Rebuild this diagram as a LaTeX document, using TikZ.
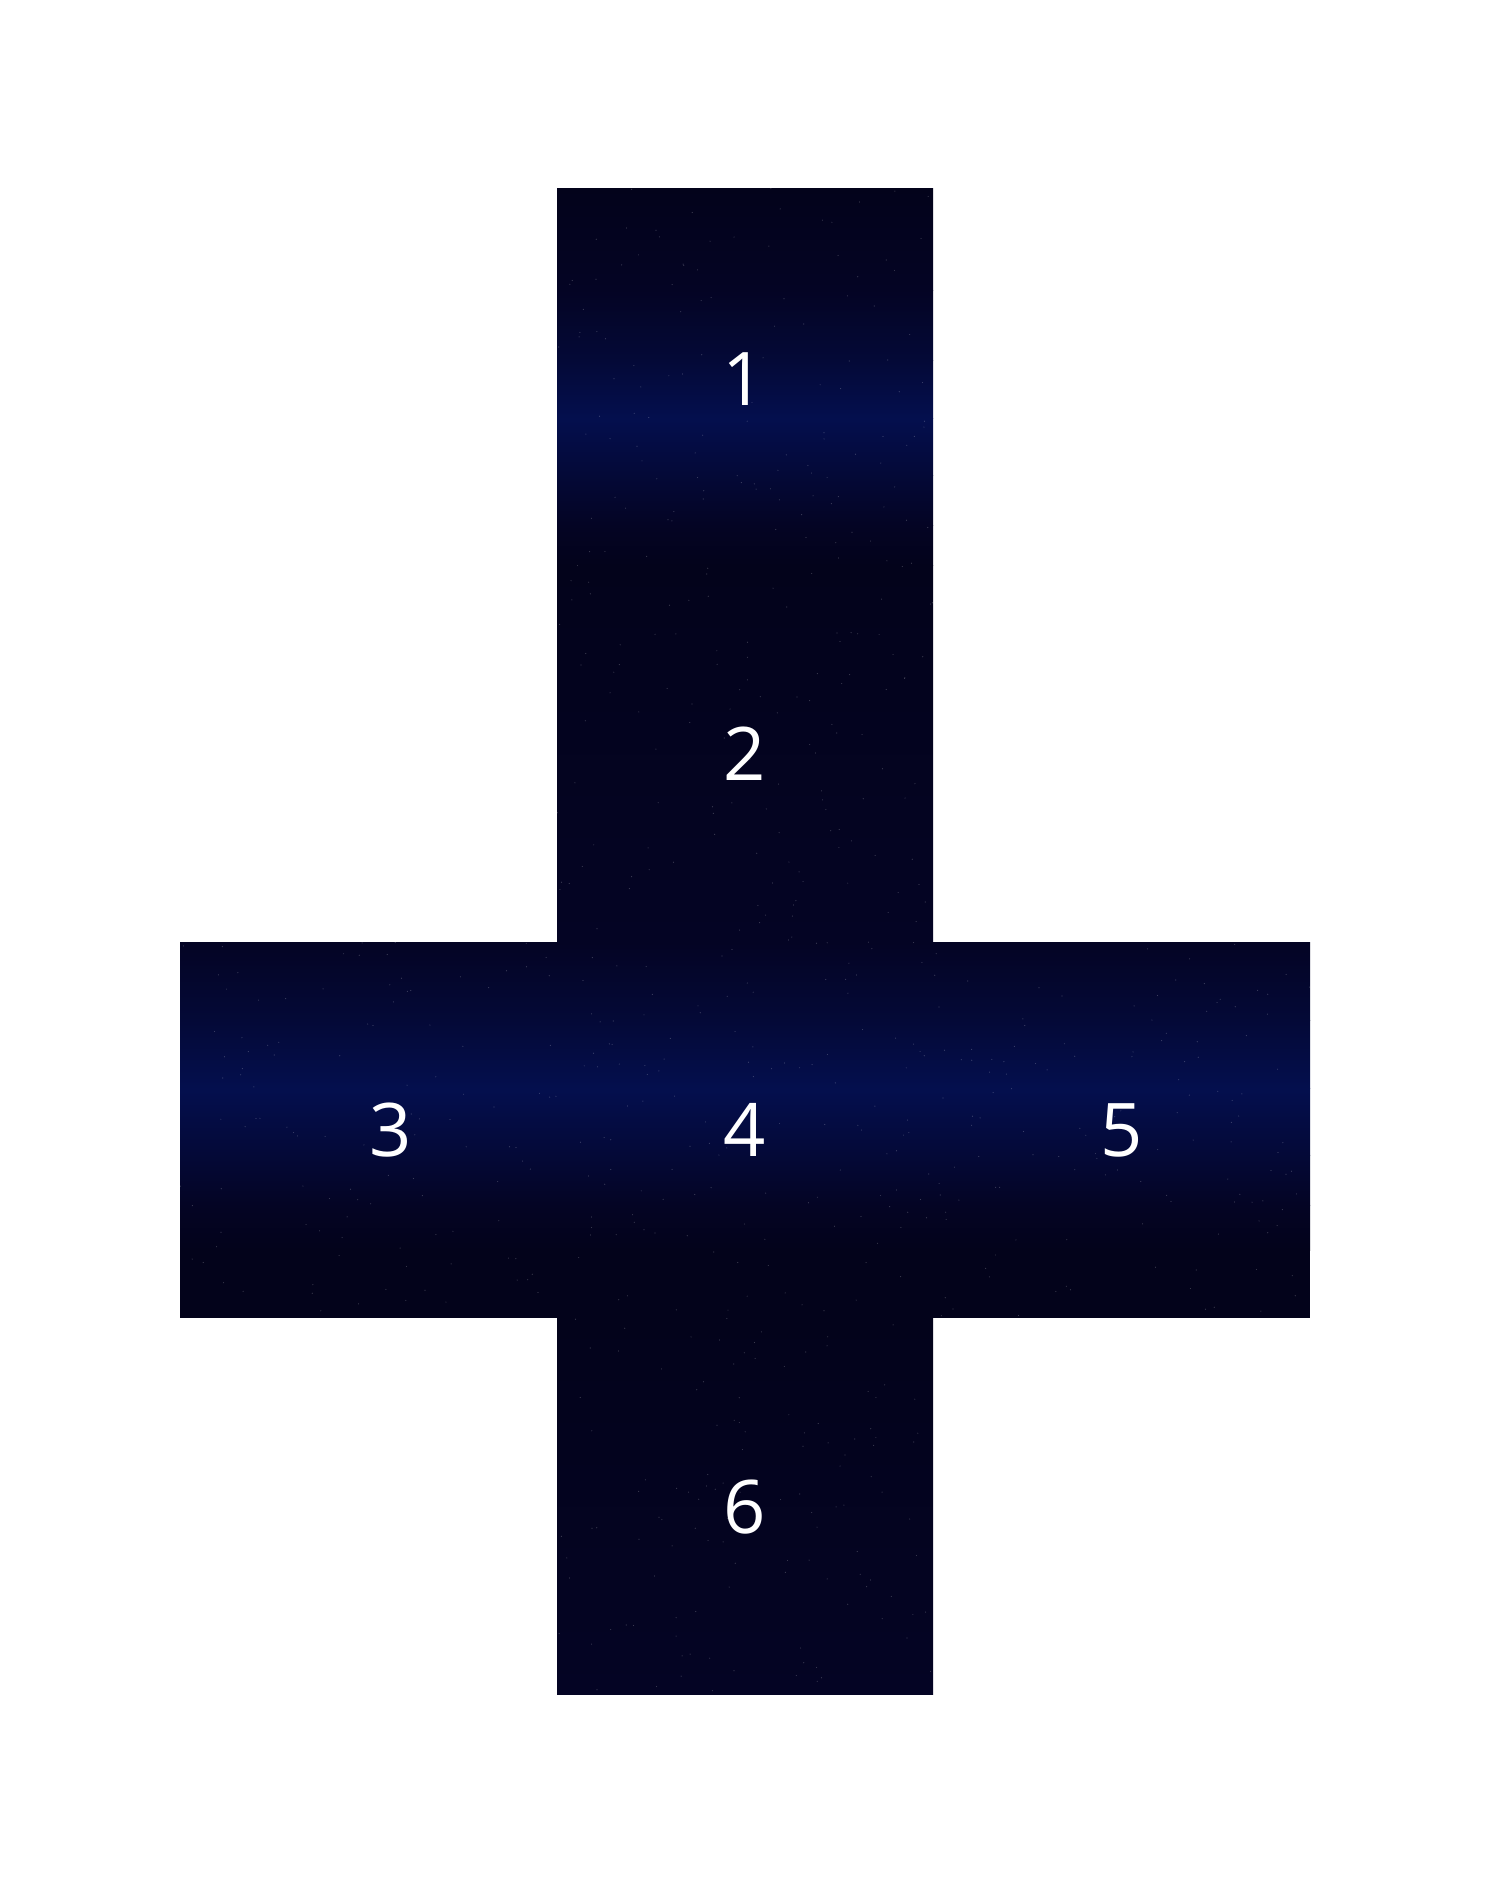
\documentclass[tikz,border=0pt]{standalone}
\usepackage{fontspec}
\newfontfamily\digitfont{Open Sans}
\begin{document}
\begin{tikzpicture}[x=1pt,y=-1pt,
  lbl/.style={text=white,font=\digitfont\fontsize{74}{80}\selectfont,inner sep=0pt},
  star/.style={white,opacity=0.22}]
\definecolor{dk}{RGB}{3,3,27}
\definecolor{dk2}{RGB}{4,4,36}
\definecolor{md}{RGB}{4,9,55}
\definecolor{bl}{RGB}{4,15,78}
\useasboundingbox[fill=white] (0,0) rectangle (1490,1882);
% square 1
\fill[top color=dk, bottom color=dk2] (557,188) rectangle (933,290.5);
\fill[top color=dk2, bottom color=md] (557,290) rectangle (933,360.5);
\fill[top color=md, bottom color=bl] (557,360) rectangle (933,418.5);
\fill[top color=bl, bottom color=md] (557,418) rectangle (933,475.5);
\fill[top color=md, bottom color=dk2] (557,475) rectangle (933,525.5);
\fill[top color=dk2, bottom color=dk] (557,525) rectangle (933,565.5);
% square 2
\fill[top color=dk, bottom color=dk2] (557,565) rectangle (933,942.5);
% row 3-4-5
\fill[top color=dk2, bottom color=md] (180,942) rectangle (1310,1020.5);
\fill[top color=md, bottom color=bl] (180,1020) rectangle (1310,1088.5);
\fill[top color=bl, bottom color=md] (180,1088) rectangle (1310,1155.5);
\fill[top color=md, bottom color=dk2] (180,1155) rectangle (1310,1205.5);
\fill[top color=dk2, bottom color=dk] (180,1205) rectangle (1310,1250.5);
\fill[dk] (180,1250) rectangle (1310,1318);
% square 6
\fill[top color=dk, bottom color=dk2] (557,1318) rectangle (933,1694);
% faint stars
\begin{scope}
\clip (557,188) -- (933,188) -- (933,942) -- (1310,942) -- (1310,1318) -- (933,1318)
  -- (933,1694) -- (557,1694) -- (557,1318) -- (180,1318) -- (180,942) -- (557,942) -- cycle;
\pgfmathsetseed{4217}
\foreach \i in {1,...,1400}{
  \pgfmathsetmacro\px{180+1131*rnd}
  \pgfmathsetmacro\py{188+1508*rnd}
  \fill[star] (\px,\py) circle (0.6);
}
\end{scope}
% labels
\node[lbl] (n1) at (744,379) {1};
\node[lbl] (n2) at (745,754) {2};
\node[lbl] (n3) at (391,1130) {3};
\node[lbl] (n4) at (745,1130) {4};
\node[lbl] (n5) at (1122,1130) {5};
\node[lbl] (n6) at (745,1507) {6};
\end{tikzpicture}
\end{document}
